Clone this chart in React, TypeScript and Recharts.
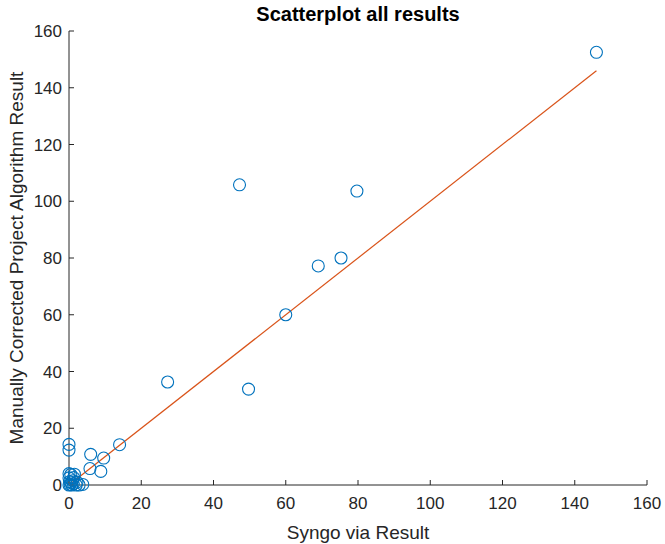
import React from 'react';
import { ScatterChart, Scatter, XAxis, YAxis } from 'recharts';

// Syngo via vs manually corrected project algorithm
const syngoVia = [
  146, 47.2, 79.7, 69, 75.3, 60, 27.3, 49.7, 14, 0, 0, 6, 9.6, 5.8, 8.8,
  0, 0.3, 0.8, 1.2, 2, 3.8, 0.2, 1, 0, 0.5, 1.5, 0, 2.2, 1.3, 0.6, 2.8,
];
const manualCorrected = [
  152.5, 105.8, 103.6, 77.2, 80, 60, 36.3, 33.8, 14.2, 14.3, 12.3, 10.8, 9.5, 5.8, 4.8,
  0, 0.2, 0, 0.4, 0, 0.2, 1.2, 1.5, 2.5, 3.7, 3.8, 4, 1, 2.6, 0.8, 0,
];
const fitX = [0, 146];
const fitY = [0, 146];
const ticks = [0, 20, 40, 60, 80, 100, 120, 140, 160];

const points = syngoVia.map((x, i) => ({ x, y: manualCorrected[i] }));
const fit = fitX.map((x, i) => ({ x, y: fitY[i] }));

const axisColor = '#262626';
const font = '"Liberation Sans", Arial, sans-serif';

const Ring = (props: any) => (
  <circle cx={props.cx} cy={props.cy} r={6} fill="none" stroke="#0072BD" strokeWidth={1.1} />
);

export default function App() {
  return (
    <div style={{ position: 'absolute', left: 0, top: 0, width: 665, height: 544, background: '#fff', fontFamily: font }}>
      <div
        style={{
          position: 'absolute',
          left: 69,
          width: 578,
          top: 3,
          textAlign: 'center',
          fontWeight: 'bold',
          fontSize: 20,
          color: '#000',
        }}
      >
        Scatterplot all results
      </div>
      <ScatterChart width={665} height={544} margin={{ top: 31, right: 18, bottom: 0, left: 0 }}>
        <XAxis
          type="number"
          dataKey="x"
          domain={[0, 160]}
          ticks={ticks}
          height={59}
          tickSize={-5}
          tickMargin={17}
          stroke={axisColor}
          tick={{ fill: axisColor, fontSize: 17, fontFamily: font }}
          label={{ value: 'Syngo via Result', position: 'insideBottom', offset: 5, fill: axisColor, fontSize: 19, fontFamily: font }}
        />
        <YAxis
          type="number"
          dataKey="y"
          domain={[0, 160]}
          ticks={ticks}
          width={69}
          tickSize={-5}
          tickMargin={12}
          stroke={axisColor}
          tick={{ fill: axisColor, fontSize: 17, fontFamily: font }}
          label={{
            value: 'Manually Corrected Project Algorithm Result',
            angle: -90,
            position: 'insideLeft',
            offset: 16,
            style: { textAnchor: 'middle' },
            fill: axisColor,
            fontSize: 19,
            fontFamily: font,
          }}
        />
        <Scatter data={fit} line={{ stroke: '#D95319', strokeWidth: 1.2 }} shape={() => <g />} isAnimationActive={false} />
        <Scatter data={points} shape={Ring} isAnimationActive={false} />
      </ScatterChart>
    </div>
  );
}
